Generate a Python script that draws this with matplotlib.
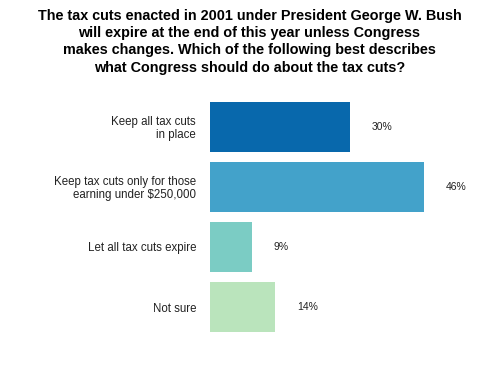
import matplotlib
matplotlib.use('Agg')
import matplotlib.pyplot as plt

plt.rcParams['font.family'] = ['Liberation Sans', 'DejaVu Sans']

title = ("The tax cuts enacted in 2001 under President George W. Bush\n"
         "will expire at the end of this year unless Congress\n"
         "makes changes. Which of the following best describes\n"
         "what Congress should do about the tax cuts?")
categories = ['Keep all tax cuts\nin place',
              'Keep tax cuts only for those\nearning under $250,000',
              'Let all tax cuts expire',
              'Not sure']
values = [30, 46, 9, 14]
colors = ['#0868ac', '#43a2ca', '#7bccc4', '#bae4bc']

fig = plt.figure(figsize=(4.99, 3.68), dpi=100)
ax = fig.add_axes([210 / 499, 31 / 368, 256 / 499, 240 / 368])

pos = list(range(len(values)))
ax.barh(pos, values, height=0.833, color=colors)
for p, v in zip(pos, values):
    ax.text(v + 4.7, p, f'{v}%', va='center', ha='left', fontsize=7.5, color='#222222')

ax.set_xlim(0, 55)
ax.set_ylim(3.5, -0.5)
ax.set_yticks(pos)
ax.set_yticklabels(categories, fontsize=8.3, color='#222222', linespacing=1.1)
ax.tick_params(axis='y', length=0, pad=10)
ax.set_xticks([])
for s in ax.spines.values():
    s.set_visible(False)

fig.text(0.5, 0.976, title, ha='center', va='top', fontsize=10.4, fontweight='bold',
         linespacing=1.3)

fig.savefig('out.png', dpi=100)
